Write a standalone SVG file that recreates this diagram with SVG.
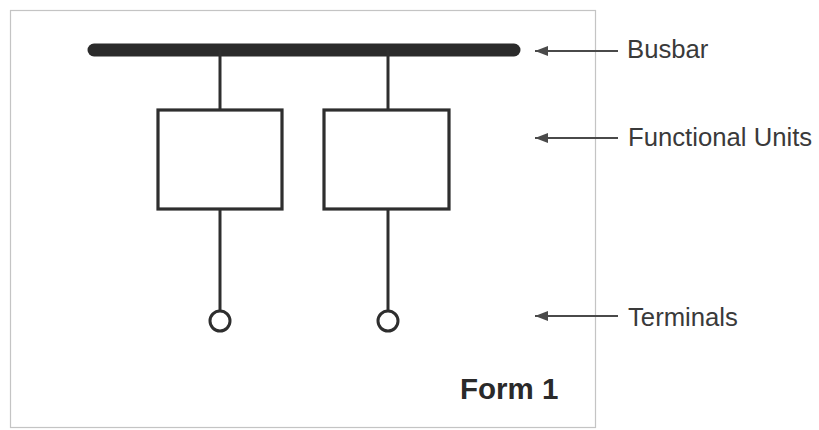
<svg xmlns="http://www.w3.org/2000/svg" width="819" height="430" viewBox="0 0 819 430">
<defs>
<style>
.frame{fill:#fff;stroke:#c4c4c4;stroke-width:1.2}
.wire{stroke:#2e2e2e;stroke-width:3;fill:none}
.unit{fill:#fff;stroke:#2e2e2e;stroke-width:3.2}
.term{fill:#fff;stroke:#2e2e2e;stroke-width:3}
.bus{stroke:#2b2b2b;stroke-width:13;stroke-linecap:round}
.ptr{stroke:#4a4a4a;stroke-width:2}
.lbl{font-family:"Liberation Sans",Arial,sans-serif;font-size:25.7px;fill:#3a3a3a}
.form{font-family:"Liberation Sans",Arial,sans-serif;font-size:29.5px;font-weight:bold;fill:#2a2a2a}
</style>
<marker id="ah" viewBox="0 0 13 10" refX="13" refY="5" markerWidth="13" markerHeight="10" markerUnits="userSpaceOnUse" orient="auto">
<path d="M0,0 L13,5 L0,10 Z" fill="#4a4a4a"/>
</marker>
</defs>
<rect width="819" height="430" fill="#fff"/>
<rect class="frame" x="10.5" y="10.5" width="585" height="417"/>
<g id="busbar"><line class="bus" x1="94" y1="50" x2="514" y2="50"/></g>
<g id="connectors">
<line class="wire" x1="220" y1="50" x2="220" y2="110"/>
<line class="wire" x1="388" y1="50" x2="388" y2="110"/>
<line class="wire" x1="220" y1="209" x2="220" y2="311"/>
<line class="wire" x1="388" y1="209" x2="388" y2="311"/>
<line class="ptr" x1="618" y1="51" x2="535" y2="51" marker-end="url(#ah)"/>
<line class="ptr" x1="618" y1="138" x2="535" y2="138" marker-end="url(#ah)"/>
<line class="ptr" x1="618" y1="316" x2="535" y2="316" marker-end="url(#ah)"/>
</g>
<g id="unit1"><rect class="unit" x="158" y="110" width="124" height="99"/></g>
<g id="unit2"><rect class="unit" x="324" y="110" width="125" height="99"/></g>
<g id="terminal1"><circle class="term" cx="220" cy="321" r="10"/></g>
<g id="terminal2"><circle class="term" cx="388" cy="321" r="10"/></g>
<g id="labels">
<text class="lbl" x="627" y="58">Busbar</text>
<text class="lbl" x="628" y="146">Functional Units</text>
<text class="lbl" x="628" y="326">Terminals</text>
<text class="form" x="460" y="399">Form 1</text>
</g>
</svg>
